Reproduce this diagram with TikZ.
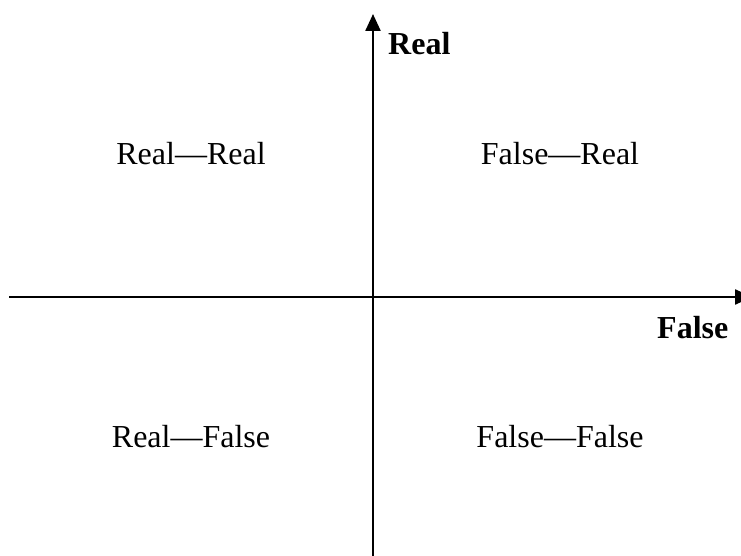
\documentclass[tikz,border=0pt]{standalone}
\usepackage{fontspec}
\setmainfont{Liberation Serif}
\usetikzlibrary{arrows.meta,positioning}

\tikzset{
  axis/.style={line width=2.4pt,-{Triangle[length=17pt,width=15pt]}},
  quadlabel/.style={anchor=base,inner sep=0pt,font=\fontsize{32}{38}\selectfont},
  axislabel/.style={anchor=base west,inner sep=0pt,font=\fontsize{32}{38}\selectfont\bfseries}
}

\begin{document}
\begin{tikzpicture}[x=1pt,y=-1pt]
      \useasboundingbox (0,0) rectangle (741,556);
      % axes
      \coordinate (xleft) at (9,297);
      \coordinate (xright) at (752,297);
      \coordinate (ybottom) at (373,556);
      \coordinate (ytop) at (373,14);
      \draw[axis] (xleft)--(xright);
      \draw[axis] (ybottom)--(ytop);
      \node[axislabel] (realaxis) at (388,55) {Real};
      \node[axislabel] (falseaxis) at (657,338) {False};
      % quadrants
      \node[quadlabel] (rr) at (191,165) {Real—Real};
      \node[quadlabel] (fr) at (560,165) {False—Real};
      \node[quadlabel] (rf) at (191,447) {Real—False};
      \node[quadlabel] (ff) at (560,447) {False—False};
    \end{tikzpicture}
\end{document}
